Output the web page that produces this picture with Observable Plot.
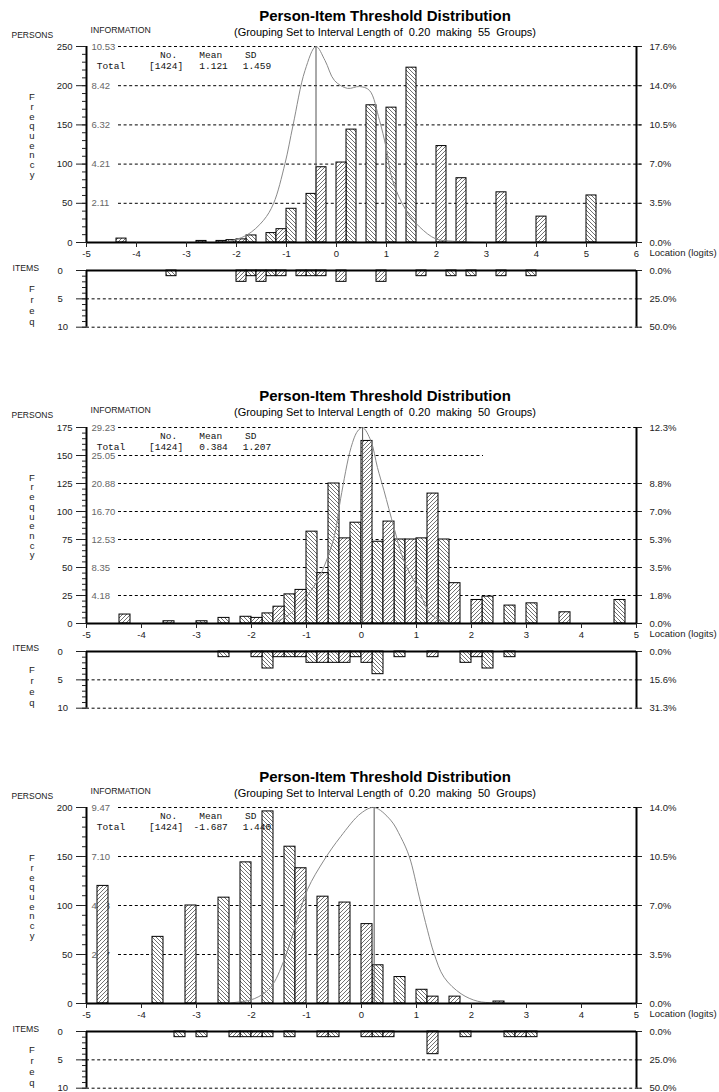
<!DOCTYPE html>
<html><head><meta charset="utf-8">
<script src="https://cdn.jsdelivr.net/npm/d3@7"></script>
<script src="https://cdn.jsdelivr.net/npm/@observablehq/plot@0.6"></script>
<style>
body{margin:0;background:#fff;}
#root{position:relative;width:719px;height:1092px;overflow:hidden;font-family:"Liberation Sans",Arial,sans-serif;color:#222;}
.panel{position:absolute;left:0;width:719px;height:380px;}
.panel svg{position:absolute;left:0;}
.t{position:absolute;white-space:pre;line-height:1;}
</style></head><body>
<svg width="0" height="0" style="position:absolute">
<defs>
<pattern id="hatchBack" patternUnits="userSpaceOnUse" width="4" height="4">
<rect width="4" height="4" fill="#fff"/>
<path d="M-1,-1L5,5M-1,3L1,5M3,-1L5,1" stroke="#333" stroke-width="0.7"/>
</pattern>
<pattern id="hatchFwd" patternUnits="userSpaceOnUse" width="4" height="4">
<rect width="4" height="4" fill="#fff"/>
<path d="M-1,5L5,-1M-1,1L1,-1M3,5L5,3" stroke="#333" stroke-width="0.7"/>
</pattern>
</defs></svg>
<div id="root"></div>
<script>
// ---------------- DATA ----------------
const titleText = "Person-Item Threshold Distribution";
const binWidth = 0.2;

// Panel 1
const p1Groups = 55;
const p1XDomain = [-5, 6];
const p1Stats = {no: "[1424]", mean: "1.121", sd: "1.459"};
const p1PersonBins   = [-4.4, -2.8, -2.4, -2.2, -2.0, -1.8, -1.4, -1.2, -1.0, -0.6, -0.4, 0.0, 0.2, 0.6, 1.0, 1.4, 2.0, 2.4, 3.2, 4.0, 5.0];
const p1PersonCounts = [5, 2, 2, 3, 4, 9, 12, 17, 43, 62, 96, 102, 144, 175, 172, 223, 123, 82, 64, 33, 60];
const p1ItemBins   = [-3.4, -2.0, -1.8, -1.6, -1.4, -1.2, -0.8, -0.6, -0.4, 0.0, 0.8, 1.6, 2.2, 2.6, 3.2, 3.8];
const p1ItemCounts = [1, 2, 1, 2, 1, 1, 1, 1, 1, 2, 2, 1, 1, 1, 1, 1];
const p1YTicks = [0, 50, 100, 150, 200, 250];
const p1YMinorStep = 10;
const p1InfoLabels = ["", "2.11", "4.21", "6.32", "8.42", "10.53"];
const p1PctLabels = ["0.0%", "3.5%", "7.0%", "10.5%", "14.0%", "17.6%"];
const p1ItemPct = ["0.0%", "25.0%", "50.0%"];
const p1CurveX    = [-2.6, -2.23, -1.80, -1.46, -1.26, -1.03, -0.87, -0.63, -0.41, -0.23, -0.04, 0.22, 0.46, 0.66, 0.86, 0.99, 1.12, 1.39, 1.66, 1.99, 2.32, 2.76];
const p1CurveInfo = [0.0, 0.02, 0.39, 1.19, 2.09, 4.24, 6.29, 9.24, 10.53, 9.78, 8.70, 8.28, 8.38, 8.17, 6.56, 5.13, 3.34, 1.73, 0.84, 0.19, 0.07, 0.0];
const p1Peak = -0.41;
const p1PartialGrid = [];

// Panel 2
const p2Groups = 50;
const p2XDomain = [-5, 5];
const p2Stats = {no: "[1424]", mean: "0.384", sd: "1.207"};
const p2PersonBins   = [-4.4, -3.6, -3.0, -2.6, -2.2, -2.0, -1.8, -1.6, -1.4, -1.2, -1.0, -0.8, -0.6, -0.4, -0.2, 0.0, 0.2, 0.4, 0.6, 0.8, 1.0, 1.2, 1.4, 1.6, 2.0, 2.2, 2.6, 3.0, 3.6, 4.6];
const p2PersonCounts = [8, 2, 2, 5, 6, 5, 9, 15, 26, 30, 82, 45, 125, 76, 90, 163, 73, 91, 75, 75, 76, 116, 75, 36, 21, 24, 16, 18, 10, 21];
const p2ItemBins   = [-2.6, -2.0, -1.8, -1.6, -1.4, -1.2, -1.0, -0.8, -0.6, -0.4, -0.2, 0.0, 0.2, 0.6, 1.2, 1.8, 2.0, 2.2, 2.6];
const p2ItemCounts = [1, 1, 3, 1, 1, 1, 2, 2, 2, 2, 1, 2, 4, 1, 1, 2, 1, 3, 1];
const p2YTicks = [0, 25, 50, 75, 100, 125, 150, 175];
const p2YMinorStep = 5;
const p2InfoLabels = ["", "4.18", "8.35", "12.53", "16.70", "20.88", "25.05", "29.23"];
const p2PctLabels = ["0.0%", "1.8%", "3.5%", "5.3%", "7.0%", "8.8%", "", "12.3%"];
const p2ItemPct = ["0.0%", "15.6%", "31.3%"];
const p2CurveX    = [-1.9, -1.59, -1.23, -0.92, -0.74, -0.50, -0.38, -0.19, -0.07, 0.02, 0.17, 0.29, 0.41, 0.59, 0.77, 1.02, 1.26, 1.56, 1.81];
const p2CurveInfo = [0.0, 0.15, 1.89, 4.88, 7.37, 12.83, 18.6, 26.25, 28.7, 29.23, 27.25, 23.26, 19.79, 14.32, 9.35, 5.37, 1.40, 0.15, 0.0];
const p2Peak = 0.02;
const p2PartialGrid = [150];

// Panel 3
const p3Groups = 50;
const p3XDomain = [-5, 5];
const p3Stats = {no: "[1424]", mean: "-1.687", sd: "1.440"};
const p3PersonBins   = [-4.8, -3.8, -3.2, -2.6, -2.2, -1.8, -1.4, -1.2, -0.8, -0.4, 0.0, 0.2, 0.6, 1.0, 1.2, 1.6, 2.4];
const p3PersonCounts = [120, 68, 100, 108, 144, 196, 160, 138, 109, 103, 81, 39, 27, 14, 7, 7, 2];
const p3ItemBins   = [-3.4, -3.0, -2.4, -2.2, -2.0, -1.8, -1.4, -0.8, -0.6, 0.0, 0.2, 0.4, 1.2, 1.8, 2.6, 2.8, 3.0];
const p3ItemCounts = [1, 1, 1, 1, 1, 1, 1, 1, 1, 1, 1, 1, 4, 1, 1, 1, 1];
const p3YTicks = [0, 50, 100, 150, 200];
const p3YMinorStep = 10;
const p3InfoLabels = ["", "2.37", "4.73", "7.10", "9.47"];
const p3PctLabels = ["0.0%", "3.5%", "7.0%", "10.5%", "14.0%"];
const p3ItemPct = ["0.0%", "25.0%", "50.0%"];
const p3CurveX    = [-2.6, -2.38, -1.95, -1.65, -1.41, -1.19, -0.98, -0.68, -0.38, -0.01, 0.23, 0.53, 0.71, 0.87, 1.05, 1.20, 1.32, 1.50, 1.81, 2.11, 2.41, 2.7];
const p3CurveInfo = [0.0, 0.03, 0.23, 0.79, 2.08, 3.86, 5.52, 6.93, 8.06, 9.19, 9.47, 8.86, 8.06, 7.09, 5.15, 3.54, 2.41, 1.27, 0.47, 0.11, 0.03, 0.0];
const p3Peak = 0.23;
const p3PartialGrid = [];

const itemTicks = [0, 5, 10];

// ---------------- DRAW ----------------
const root = document.getElementById("root");
const FONT = '"Liberation Sans", Arial, sans-serif';

function txt(parent, s, x, yc, size, opts = {}) {
  const d = document.createElement("div");
  d.className = "t";
  d.textContent = s;
  d.style.fontSize = size + "px";
  d.style.fontFamily = opts.family || FONT;
  if (opts.weight) d.style.fontWeight = opts.weight;
  if (opts.color) d.style.color = opts.color;
  d.style.top = (yc - size * 0.5) + "px";
  d.style.left = x + "px";
  if (opts.center) d.style.transform = "translateX(-50%)";
  parent.appendChild(d);
}

const plotStyle = {background: "transparent", overflow: "visible", fontSize: "9.5px", fontFamily: FONT, color: "#222"};

function hatchMarks(rows, xMin) {
  const back = rows.filter(d => Math.round((d.x1 - xMin) / binWidth) % 2 === 0);
  const fwd  = rows.filter(d => Math.round((d.x1 - xMin) / binWidth) % 2 === 1);
  return [
    Plot.rectY(back, {x1: "x1", x2: "x2", y: "y", fill: "url(#hatchBack)", stroke: "#000", strokeWidth: 1}),
    Plot.rectY(fwd,  {x1: "x1", x2: "x2", y: "y", fill: "url(#hatchFwd)",  stroke: "#000", strokeWidth: 1})
  ];
}

function buildPanel(cfg, top) {
  const div = document.createElement("div");
  div.className = "panel";
  div.style.top = top + "px";
  root.appendChild(div);

  const [xMin, xMax] = cfg.xDomain;
  const yMax = cfg.yTicks[cfg.yTicks.length - 1];
  const infoMax = +cfg.infoLabels[cfg.infoLabels.length - 1];
  const k = yMax / infoMax;
  const persons = cfg.personBins.map((x, i) => ({x1: x, x2: x + binWidth, y: cfg.personCounts[i]}));
  const items = cfg.itemBins.map((x, i) => ({x1: x, x2: x + binWidth, y: cfg.itemCounts[i]}));
  const curve = cfg.curveX.map((x, i) => ({x, y: cfg.curveInfo[i] * k}));
  const infoMap = new Map(cfg.yTicks.map((t, i) => [t, cfg.infoLabels[i]]));
  const pctMap = new Map(cfg.yTicks.map((t, i) => [t, cfg.pctLabels[i]]));
  const fullGrid = cfg.yTicks.filter(t => t > 0 && !cfg.partialGrid.includes(t));
  const rightTicks = cfg.yTicks.filter(t => pctMap.get(t) !== "");
  const xTicks = d3.range(xMin, xMax + 1);

  const pers = Plot.plot({
    width: 719, height: 262,
    marginTop: 46, marginBottom: 20, marginLeft: 86, marginRight: 83,
    x: {domain: cfg.xDomain},
    y: {domain: [0, yMax]},
    style: plotStyle,
    marks: [
      Plot.ruleY(fullGrid, {stroke: "#000", strokeDasharray: "3,2.6", insetLeft: 32, insetRight: -5}),
      Plot.ruleY(cfg.partialGrid, {stroke: "#000", strokeDasharray: "3,2.6", insetLeft: 32, insetRight: 153}),
      Plot.text(cfg.yTicks.filter(t => infoMap.get(t) !== ""), {y: d => d, text: d => infoMap.get(d), frameAnchor: "left", dx: 5, textAnchor: "start", fill: "#666"}),
      ...hatchMarks(persons, xMin),
      Plot.line(curve, {x: "x", y: "y", stroke: "#8a8a8a", strokeWidth: 1, curve: "catmull-rom"}),
      Plot.ruleX([cfg.peak], {y1: 0, y2: yMax, stroke: "#555", strokeWidth: 1}),
      Plot.ruleX([xMin, xMax], {stroke: "#000", strokeWidth: 2}),
      Plot.ruleY([0], {stroke: "#000", strokeWidth: 2}),
      Plot.axisY({anchor: "left", label: null, ticks: cfg.yTicks, tickSize: 10, tickPadding: 4, tickFormat: d => String(d)}),
      Plot.axisY({anchor: "left", label: null, ticks: d3.range(0, yMax + 1, cfg.yMinorStep), tickSize: 4, tickFormat: () => ""}),
      Plot.axisY({anchor: "right", label: null, ticks: rightTicks, tickSize: 5, tickPadding: 8, tickFormat: d => pctMap.get(d)}),
      Plot.axisX({label: null, ticks: xTicks, tickSize: 5, tickPadding: 3, tickFormat: d => String(d)}),
      Plot.text(["Location (logits)"], {frameAnchor: "bottom-right", dx: 13, dy: 13, textAnchor: "start"})
    ]
  });
  pers.style.top = "0px";
  div.appendChild(pers);

  const itemPctMap = new Map(itemTicks.map((t, i) => [t, cfg.itemPct[i]]));
  const it = Plot.plot({
    width: 719, height: 80,
    marginTop: 10, marginBottom: 13.3, marginLeft: 86, marginRight: 83,
    x: {domain: cfg.xDomain, axis: null},
    y: {domain: [0, 10], reverse: true},
    style: plotStyle,
    marks: [
      Plot.ruleY(itemTicks.filter(t => t > 0), {stroke: "#000", strokeDasharray: "3,2.6", insetRight: -5}),
      ...hatchMarks(items, xMin),
      Plot.ruleX([xMin, xMax], {stroke: "#000", strokeWidth: 2}),
      Plot.ruleY([0], {stroke: "#000", strokeWidth: 2}),
      Plot.axisY({anchor: "left", label: null, ticks: itemTicks, tickSize: 10, tickFormat: () => ""}),
      Plot.axisY({anchor: "left", label: null, ticks: d3.range(0, 11), tickSize: 4, tickFormat: () => ""}),
      Plot.text(itemTicks, {y: d => d, text: d => String(d), frameAnchor: "left", dx: -29, textAnchor: "start"}),
      Plot.axisY({anchor: "right", label: null, ticks: itemTicks, tickSize: 5, tickPadding: 8, tickFormat: d => itemPctMap.get(d)})
    ]
  });
  it.style.top = "260px";
  div.appendChild(it);

  // texts
  txt(div, titleText, 385, 15, 15, {weight: "bold", center: true, color: "#000"});
  txt(div, `(Grouping Set to Interval Length of  0.20  making  ${cfg.groups}  Groups)`, 385, 32, 11, {center: true, color: "#000"});
  txt(div, "PERSONS", 11.5, 35, 8.5);
  txt(div, "INFORMATION", 90.5, 30, 8.7);
  txt(div, "ITEMS", 12.5, 268, 8.7);
  "Frequency".split("").forEach((c, i) => txt(div, c, 32, 97 + i * 9.7, 9.5, {center: true}));
  "Freq".split("").forEach((c, i) => txt(div, c, 32, 289 + i * 11, 9.5, {center: true}));
  const mono = {family: '"Liberation Mono", "DejaVu Sans Mono", monospace', color: "#111"};
  txt(div, "No.", 160, 56, 9.5, mono);
  txt(div, "Mean", 199.3, 56, 9.5, mono);
  txt(div, "SD", 245, 56, 9.5, mono);
  txt(div, "Total", 96.7, 67, 9.5, mono);
  txt(div, cfg.stats.no, 149, 67, 9.5, mono);
  txt(div, cfg.stats.mean, cfg.stats.mean.startsWith("-") ? 193.6 : 199.3, 67, 9.5, mono);
  txt(div, cfg.stats.sd, 242.7, 67, 9.5, mono);
}

const panels = [
  {groups: p1Groups, xDomain: p1XDomain, stats: p1Stats, personBins: p1PersonBins, personCounts: p1PersonCounts, itemBins: p1ItemBins, itemCounts: p1ItemCounts, yTicks: p1YTicks, yMinorStep: p1YMinorStep, infoLabels: p1InfoLabels, pctLabels: p1PctLabels, itemPct: p1ItemPct, curveX: p1CurveX, curveInfo: p1CurveInfo, peak: p1Peak, partialGrid: p1PartialGrid},
  {groups: p2Groups, xDomain: p2XDomain, stats: p2Stats, personBins: p2PersonBins, personCounts: p2PersonCounts, itemBins: p2ItemBins, itemCounts: p2ItemCounts, yTicks: p2YTicks, yMinorStep: p2YMinorStep, infoLabels: p2InfoLabels, pctLabels: p2PctLabels, itemPct: p2ItemPct, curveX: p2CurveX, curveInfo: p2CurveInfo, peak: p2Peak, partialGrid: p2PartialGrid},
  {groups: p3Groups, xDomain: p3XDomain, stats: p3Stats, personBins: p3PersonBins, personCounts: p3PersonCounts, itemBins: p3ItemBins, itemCounts: p3ItemCounts, yTicks: p3YTicks, yMinorStep: p3YMinorStep, infoLabels: p3InfoLabels, pctLabels: p3PctLabels, itemPct: p3ItemPct, curveX: p3CurveX, curveInfo: p3CurveInfo, peak: p3Peak, partialGrid: p3PartialGrid}
];
const panelTops = [0, 380.5, 761];
panels.forEach((cfg, i) => buildPanel(cfg, panelTops[i]));
</script>
</body></html>
